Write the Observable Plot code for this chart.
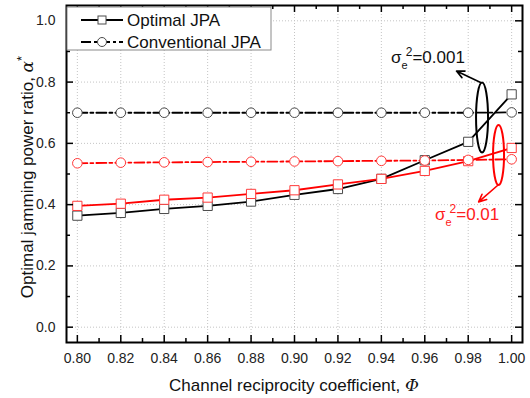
<!DOCTYPE html>
<html><head><meta charset="utf-8">
<script src="https://cdn.jsdelivr.net/npm/d3@7"></script>
<script src="https://cdn.jsdelivr.net/npm/@observablehq/plot@0.6"></script>
<style>
body{margin:0;background:#fff;}
#chart{width:530px;height:398px;}
svg{font-family:"Liberation Sans",Arial,sans-serif;}
</style>
</head><body><div id="chart"></div>
<script>
// ---- data ----
const phi = [0.80,0.82,0.84,0.86,0.88,0.90,0.92,0.94,0.96,0.98,1.00];
const optimal_001 = [0.364,0.373,0.386,0.396,0.410,0.432,0.451,0.484,0.545,0.605,0.760];
const optimal_01  = [0.396,0.403,0.416,0.423,0.435,0.447,0.466,0.484,0.510,0.542,0.585];
const conventional_001 = [0.700,0.700,0.700,0.700,0.700,0.700,0.700,0.700,0.700,0.700,0.701];
const conventional_01  = [0.535,0.537,0.538,0.539,0.540,0.541,0.542,0.543,0.544,0.546,0.548];
const xTicks = [0.80,0.82,0.84,0.86,0.88,0.90,0.92,0.94,0.96,0.98,1.00];
const xMinor = [0.81,0.83,0.85,0.87,0.89,0.91,0.93,0.95,0.97,0.99];
const yTicks = [0.0,0.2,0.4,0.6,0.8,1.0];
const yMinor = [0.1,0.3,0.5,0.7,0.9];
const schemes = ["Optimal JPA","Conventional JPA"];
const errVars = ["0.001","0.01"];

const rows = [];
phi.forEach((p,i)=>{
  rows.push({phi:p, alpha:optimal_001[i], scheme:"Optimal JPA", err:"0.001"});
  rows.push({phi:p, alpha:optimal_01[i], scheme:"Optimal JPA", err:"0.01"});
  rows.push({phi:p, alpha:conventional_001[i], scheme:"Conventional JPA", err:"0.001"});
  rows.push({phi:p, alpha:conventional_01[i], scheme:"Conventional JPA", err:"0.01"});
});

// annotation anchors (data units)
const ellipses = [
  {err:"0.001", x:0.9866, y:0.6828, rx:6, ry:35},
  {err:"0.01",  x:0.9942, y:0.5604, rx:5.5, ry:30}
];
const arrows = [
  {err:"0.001", x1:0.9857, y1:0.7987, x2:0.9746, y2:0.8360},
  {err:"0.01",  x1:0.9935, y1:0.4625, x2:0.9848, y2:0.4090}
];
const labels = [
  {err:"0.001", x:0.9447, y:0.8607},
  {err:"0.01",  x:0.9649, y:0.3482}
];

// ---- styling ----
const W=530, H=398, mL=66, mR=8, mT=5, mB=56;
const pw=W-mL-mR, ph=H-mT-mB;
const lineColor = {"0.001":"#000000","0.01":"#ff0000"};
const markColor = {"0.001":"#4a4a4a","0.01":"#ff3a3a"};
const dash = {"Optimal JPA":null,"Conventional JPA":"10,3,3,3"};
const symbolOf = {"Optimal JPA":"square","Conventional JPA":"circle"};
const rOf = {"Optimal JPA":5.2,"Conventional JPA":4.8};

const marks = [
  Plot.ruleX(xTicks,{stroke:"#c4c4c4",strokeDasharray:"1,2",strokeWidth:1}),
  Plot.ruleY(yTicks,{stroke:"#c4c4c4",strokeDasharray:"1,2",strokeWidth:1})
];
for (const s of schemes) for (const e of errVars) {
  marks.push(Plot.line(rows.filter(d=>d.scheme===s&&d.err===e),
    {x:"phi",y:"alpha",stroke:lineColor[e],strokeWidth:1.8,strokeDasharray:dash[s]}));
}
for (const s of schemes) for (const e of errVars) {
  marks.push(Plot.dot(rows.filter(d=>d.scheme===s&&d.err===e),
    {x:"phi",y:"alpha",symbol:symbolOf[s],r:rOf[s],fill:"white",stroke:markColor[e],strokeWidth:1}));
}
for (const a of arrows) {
  marks.push(Plot.arrow([a],{x1:"x1",y1:"y1",x2:"x2",y2:"y2",stroke:lineColor[a.err],strokeWidth:1.6,headLength:8,headAngle:50}));
}
// inward ticks (mirrored)
marks.push(
  Plot.ruleX(xTicks,{insetTop:ph-7,stroke:"#000",strokeWidth:1.5,ariaLabel:"ticks"}),
  Plot.ruleX(xTicks,{insetBottom:ph-7,stroke:"#000",strokeWidth:1.5,ariaLabel:"ticks"}),
  Plot.ruleX(xMinor,{insetTop:ph-4,stroke:"#000",strokeWidth:1.5,ariaLabel:"ticks"}),
  Plot.ruleX(xMinor,{insetBottom:ph-4,stroke:"#000",strokeWidth:1.5,ariaLabel:"ticks"}),
  Plot.ruleY(yTicks,{insetRight:pw-7,stroke:"#000",strokeWidth:1.5,ariaLabel:"ticks"}),
  Plot.ruleY(yTicks,{insetLeft:pw-7,stroke:"#000",strokeWidth:1.5,ariaLabel:"ticks"}),
  Plot.ruleY(yMinor,{insetRight:pw-4,stroke:"#000",strokeWidth:1.5,ariaLabel:"ticks"}),
  Plot.ruleY(yMinor,{insetLeft:pw-4,stroke:"#000",strokeWidth:1.5,ariaLabel:"ticks"}),
  Plot.axisX(xTicks,{tickSize:0,tickPadding:11,tickFormat:d=>d.toFixed(2),fontSize:14,label:null,fill:"#222"}),
  Plot.axisY(yTicks,{tickSize:0,tickPadding:11,tickFormat:d=>d.toFixed(1),fontSize:14,label:null,fill:"#222"}),
  Plot.frame({stroke:"#000",strokeWidth:2,ariaLabel:"frame"})
);

const plot = Plot.plot({
  width:W, height:H, marginLeft:mL, marginRight:mR, marginTop:mT, marginBottom:mB,
  x:{domain:[0.795,1.005]}, y:{domain:[-0.05,1.05]},
  style:{fontFamily:"'Liberation Sans', Arial, sans-serif", background:"white", color:"#000"},
  marks
});
document.getElementById("chart").appendChild(plot);

// ---- post-processing: annotations, legend, axis titles ----
const svg = d3.select(plot);
const sx = plot.scale("x"), sy = plot.scale("y");

for (const el of ellipses) {
  svg.append("ellipse").attr("cx",sx.apply(el.x)).attr("cy",sy.apply(el.y))
    .attr("rx",el.rx).attr("ry",el.ry).attr("fill","none")
    .attr("stroke",lineColor[el.err]).attr("stroke-width",2);
}
for (const lb of labels) {
  const t = svg.append("text").attr("x",sx.apply(lb.x)).attr("y",sy.apply(lb.y))
    .attr("text-anchor","start")
    .attr("font-size",17).attr("fill",lb.err==="0.01"?"#ff2020":"#111");
  t.append("tspan").text("σ");
  t.append("tspan").attr("font-size",11).attr("dy",6).text("e");
  t.append("tspan").attr("font-size",12).attr("dx",-2).attr("dy",-13).text("2");
  t.append("tspan").attr("dy",7).text("="+lb.err);
}

// legend
const lg = svg.append("g").attr("text-anchor","start");
lg.append("rect").attr("x",67).attr("y",7).attr("width",204).attr("height",43)
  .attr("fill","white").attr("stroke","#8a8a8a").attr("stroke-width",1);
schemes.forEach((s,i)=>{
  const yy = 20 + i*22;
  lg.append("line").attr("x1",81).attr("x2",123).attr("y1",yy).attr("y2",yy)
    .attr("stroke","#000").attr("stroke-width",1.8).attr("stroke-dasharray",dash[s]||null);
  if (s==="Optimal JPA") {
    lg.append("rect").attr("x",98).attr("y",yy-4).attr("width",8).attr("height",8)
      .attr("fill","white").attr("stroke","#4a4a4a");
  } else {
    lg.append("circle").attr("cx",102).attr("cy",yy).attr("r",4.5)
      .attr("fill","white").attr("stroke","#4a4a4a");
  }
  lg.append("text").attr("x",127).attr("y",yy+6).attr("text-anchor","start")
    .attr("font-size",17).attr("fill","#111").text(s);
});
svg.selectAll('g[aria-label="ticks"]').raise();
svg.selectAll('g[aria-label="frame"]').raise();

// axis titles
const xt = svg.append("text").attr("x",mL+pw/2).attr("y",391).attr("text-anchor","middle")
  .attr("font-size",17).attr("fill","#111");
xt.append("tspan").text("Channel reciprocity coefficient, ");
xt.append("tspan").attr("font-style","italic").attr("font-family","'DejaVu Serif', serif").text("Φ");

const yt = svg.append("text").attr("transform","translate(33,177) rotate(-90)")
  .attr("text-anchor","middle").attr("font-size",17).attr("fill","#111");
yt.append("tspan").text("Optimal jamming power ratio, ");
yt.append("tspan").attr("font-style","italic").attr("font-family","'DejaVu Serif', serif").text("α");
yt.append("tspan").attr("dy",-7).attr("font-size",13).text("*");
</script>
</body></html>
